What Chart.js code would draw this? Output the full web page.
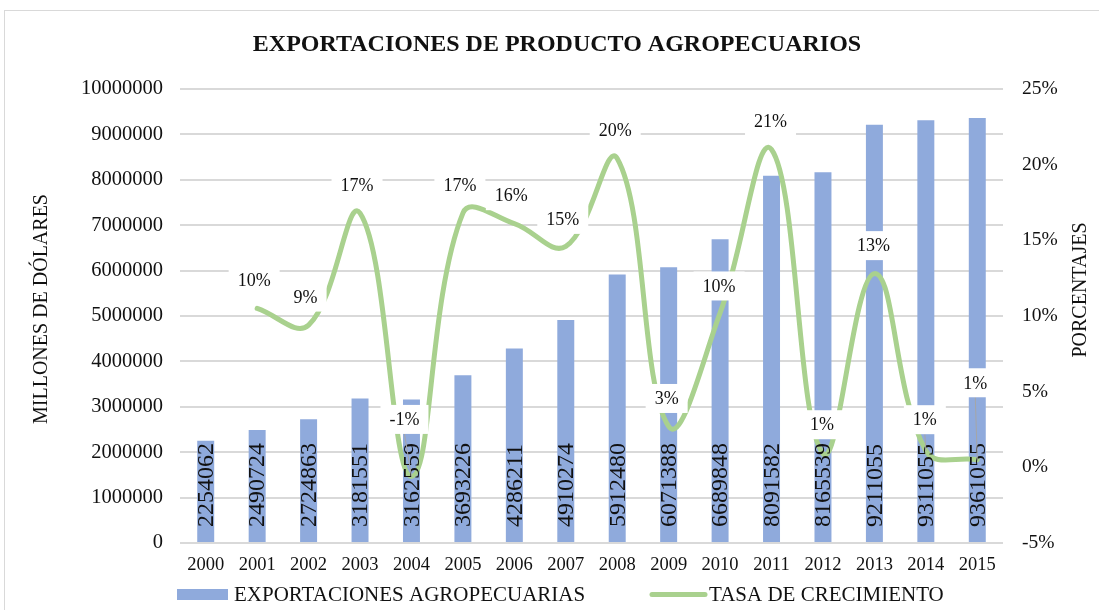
<!DOCTYPE html>
<html>
<head>
<meta charset="utf-8">
<script src="https://cdn.jsdelivr.net/npm/chart.js@4.4.1/dist/chart.umd.min.js"></script>
<style>
html,body{margin:0;padding:0;background:#fff;overflow:hidden;}
#wrap{position:absolute;left:0;top:0;width:1099px;height:610px;}
#frame{position:absolute;left:4px;top:10px;width:1100px;height:610px;border:1px solid #d9d9d9;box-sizing:border-box;}
canvas{position:absolute;left:0;top:0;}
</style>
</head>
<body>
<div id="wrap"><div id="frame"></div><canvas id="c" width="1099" height="610"></canvas></div>
<script>
const years = ['2000','2001','2002','2003','2004','2005','2006','2007','2008','2009','2010','2011','2012','2013','2014','2015'];
const exportaciones = [2254062,2490724,2724863,3181551,3162559,3693226,4286211,4910274,5912480,6071388,6689848,8091582,8165539,9211055,9311055,9361055];
const tasaCrecimiento = [null,10.5,9.4,16.8,-0.6,16.8,16.1,14.6,20.4,2.7,10.2,21.0,0.9,12.8,1.1,0.5];
const tasaEtiquetas = ['','10%','9%','17%','-1%','17%','16%','15%','20%','3%','10%','21%','1%','13%','1%','1%'];
const leftTicks = {min:0, max:10000000, step:1000000};
const rightTicks = {min:-5, max:25, step:5};

const SERIF = '"Liberation Serif","Times New Roman",serif';
const TXT = '#111';
// label placement (offset from point in px) and leader flags
const labelOffsets = [null,[-3,-28],[-3,-28],[-3,-28],[-7,-57],[-3,-28],[-3,-28],[-3,-27],[-2,-28],[-2,-28],[-1,-27],[-1,-28],[-1,-29],[-1,-28],[-1,-31],[-2,-77]];
const leaders = [false,false,false,false,true,false,false,false,false,false,false,false,false,false,true,true];

const extras = {
  id:'extras',
  afterDatasetsDraw(chart){
    const ctx = chart.ctx;
    const base = chart.scales.y.getPixelForValue(0);
    const barMeta = chart.getDatasetMeta(0);
    ctx.save();
    ctx.font = '24px ' + SERIF;
    ctx.fillStyle = TXT;
    ctx.textAlign = 'left';
    ctx.textBaseline = 'middle';
    barMeta.data.forEach((bar,i)=>{
      ctx.save();
      ctx.translate(bar.x, base - 16);
      ctx.rotate(-Math.PI/2);
      ctx.fillText(String(exportaciones[i]), 0, 1);
      ctx.restore();
    });
    ctx.restore();
    const lineMeta = chart.getDatasetMeta(1);
    ctx.save();
    ctx.font = '18px ' + SERIF;
    ctx.textAlign = 'center';
    ctx.textBaseline = 'middle';
    lineMeta.data.forEach((pt,i)=>{
      if (!tasaEtiquetas[i]) return;
      const off = labelOffsets[i];
      const cx = pt.x + off[0], cy = pt.y + off[1];
      const w = ctx.measureText(tasaEtiquetas[i]).width + 18;
      const h = 29;
      if (leaders[i]) {
        ctx.strokeStyle = '#a6a6a6';
        ctx.lineWidth = 1;
        ctx.beginPath();
        ctx.moveTo(cx, cy + h/2);
        ctx.lineTo(pt.x, pt.y);
        ctx.stroke();
      }
      ctx.fillStyle = '#fff';
      ctx.fillRect(cx - w/2, cy - h/2, w, h);
      ctx.fillStyle = TXT;
      ctx.fillText(tasaEtiquetas[i], cx, cy + 1);
    });
    ctx.restore();
  },
  afterDraw(chart){
    const ctx = chart.ctx;
    ctx.save();
    ctx.fillStyle = TXT;
    ctx.font = 'bold 24px ' + SERIF;
    ctx.textAlign = 'center';
    ctx.textBaseline = 'middle';
    ctx.fillText('EXPORTACIONES DE PRODUCTO AGROPECUARIOS', 557, 45);
    ctx.font = '20px ' + SERIF;
    ctx.save();
    ctx.translate(42, 309);
    ctx.rotate(-Math.PI/2);
    ctx.fillText('MILLONES DE DÓLARES', 0, 0);
    ctx.restore();
    ctx.save();
    ctx.translate(1081, 290);
    ctx.rotate(-Math.PI/2);
    ctx.fillText('PORCENTAJES', 0, 0);
    ctx.restore();
    ctx.font = '21px ' + SERIF;
    ctx.textAlign = 'left';
    ctx.fillStyle = chart.data.datasets[0].backgroundColor;
    ctx.fillRect(177, 589, 51, 11);
    ctx.fillStyle = TXT;
    ctx.fillText(chart.data.datasets[0].label, 234, 595);
    ctx.strokeStyle = chart.data.datasets[1].borderColor;
    ctx.lineWidth = 5;
    ctx.lineCap = 'round';
    ctx.beginPath();
    ctx.moveTo(652, 594.5);
    ctx.lineTo(705, 594.5);
    ctx.stroke();
    ctx.fillText(chart.data.datasets[1].label, 709, 595);
    ctx.restore();
  }
};

new Chart(document.getElementById('c'), {
  data: {
    labels: years,
    datasets: [
      {type:'bar', label:'EXPORTACIONES AGROPECUARIAS', data: exportaciones, yAxisID:'y',
       backgroundColor:'#8faadc', categoryPercentage:1.0, barPercentage:0.33, order:1},
      {type:'line', label:'TASA DE CRECIMIENTO', data: tasaCrecimiento, yAxisID:'y1',
       borderColor:'#a9d18e', borderWidth:5, pointRadius:0, tension:0.4, fill:false,
       spanGaps:false, borderCapStyle:'round', order:0}
    ]
  },
  options: {
    responsive:false,
    animation:false,
    devicePixelRatio:1,
    layout:{padding:{top:89,left:0,right:0,bottom:0}},
    plugins:{legend:{display:false}, title:{display:false}, tooltip:{enabled:false}},
    scales:{
      x:{
        grid:{display:false, drawTicks:false}, border:{display:false},
        ticks:{font:{family:SERIF,size:18.5}, color:TXT, padding:11, maxRotation:0, autoSkip:false},
        afterFit(s){ s.height = 67; }
      },
      y:{
        position:'left', min:leftTicks.min, max:leftTicks.max,
        ticks:{stepSize:leftTicks.step, font:{family:SERIF,size:20.5}, color:TXT, padding:17,
               callback:(v)=>String(v)},
        grid:{color:'#d9d9d9', lineWidth:2, drawTicks:false}, border:{display:false},
        afterFit(s){ s.width = 180; }
      },
      y1:{
        position:'right', min:rightTicks.min, max:rightTicks.max,
        ticks:{stepSize:rightTicks.step, font:{family:SERIF,size:19.5}, color:TXT, padding:19,
               callback:(v)=>v+'%'},
        grid:{display:false, drawTicks:false}, border:{display:false},
        afterFit(s){ s.width = 96; }
      }
    }
  },
  plugins:[extras]
});
</script>
</body>
</html>
